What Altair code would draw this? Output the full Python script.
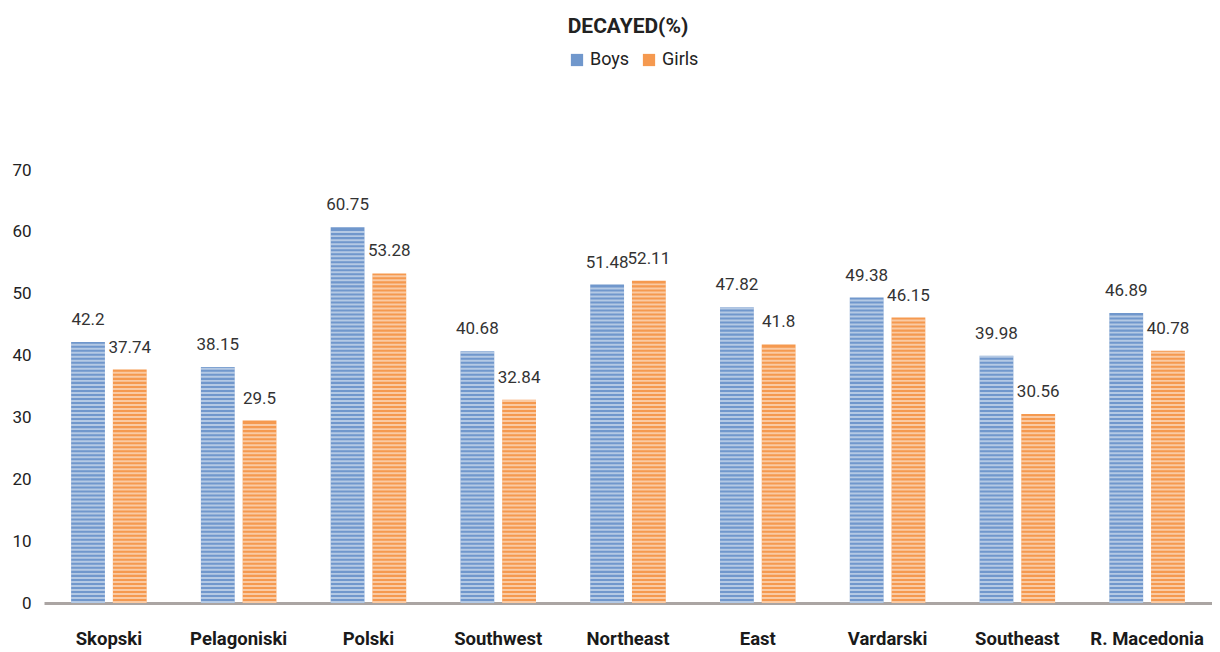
import altair as alt
import pandas as pd

regions = ["Skopski", "Pelagoniski", "Polski", "Southwest", "Northeast",
           "East", "Vardarski", "Southeast", "R. Macedonia"]
boys = [42.2, 38.15, 60.75, 40.68, 51.48, 47.82, 49.38, 39.98, 46.89]
girls = [37.74, 29.5, 53.28, 32.84, 52.11, 41.8, 46.15, 30.56, 40.78]
series = ["Boys", "Girls"]
colors = ["#7097cc", "#f5994f"]

rows = []
for r, b, g in zip(regions, boys, girls):
    rows.append({"region": r, "sex": "Boys", "value": b})
    rows.append({"region": r, "sex": "Girls", "value": g})
df = pd.DataFrame(rows)

FONT = "Roboto"

x_enc = alt.X("region:N", sort=regions,
              scale=alt.Scale(paddingInner=0.418, paddingOuter=0.209),
              axis=alt.Axis(title=None, labelAngle=0, ticks=False,
                            labelFont=FONT, labelFontSize=18.5, labelFontWeight="bold",
                            labelColor="#1a1a1a", labelPadding=26,
                            domainColor="#aba5a3", domainWidth=3))
y_enc = alt.Y("value:Q", scale=alt.Scale(domain=[0, 70], nice=False),
              axis=alt.Axis(title=None, values=[0, 10, 20, 30, 40, 50, 60, 70],
                            grid=False, domain=False, ticks=False,
                            labelFont=FONT, labelFontSize=17, labelColor="#222222",
                            labelPadding=13))
xo = alt.XOffset("sex:N", sort=series,
                 scale=alt.Scale(paddingInner=0.19, paddingOuter=0))

base = alt.Chart(df)

bars = base.mark_bar().encode(
    x=x_enc, y=y_enc, xOffset=xo,
    color=alt.Color("sex:N", sort=series,
                    scale=alt.Scale(domain=series, range=colors),
                    legend=alt.Legend(title=None, orient="none", direction="horizontal",
                                      legendX=524, legendY=-119,
                                      symbolType="square", symbolSize=150,
                                      symbolStrokeWidth=0,
                                      labelFont=FONT, labelFontSize=18,
                                      labelColor="#222222", columnPadding=10,
                                      padding=0))
)

stripes = base.transform_calculate(
    s="sequence(0, datum.value - 0.3, 0.65)"
).transform_flatten(["s"]).transform_calculate(
    s2="datum.s + 0.32"
).mark_bar(color="white", opacity=0.48).encode(
    x=alt.X("region:N", sort=regions), xOffset=xo,
    y=alt.Y("s:Q"), y2="s2:Q"
)

labels = base.mark_text(baseline="bottom", dy=-13, font=FONT, fontSize=17,
                        color="#333333").encode(
    x=alt.X("region:N", sort=regions), xOffset=xo,
    y=alt.Y("value:Q"), text=alt.Text("value:N")
)

chart = alt.layer(bars, stripes, labels).properties(
    width=1168, height=433,
    title=alt.TitleParams("DECAYED(%)", font=FONT, fontSize=21, fontWeight="bold",
                          color="#222222", anchor="middle", offset=14),
    autosize=alt.AutoSizeParams(type="none"),
    padding={"left": 36, "top": 162, "right": 0, "bottom": 50},
).configure_view(stroke=None)

chart.save("out.html", embed_options={"renderer": "svg", "actions": False})
